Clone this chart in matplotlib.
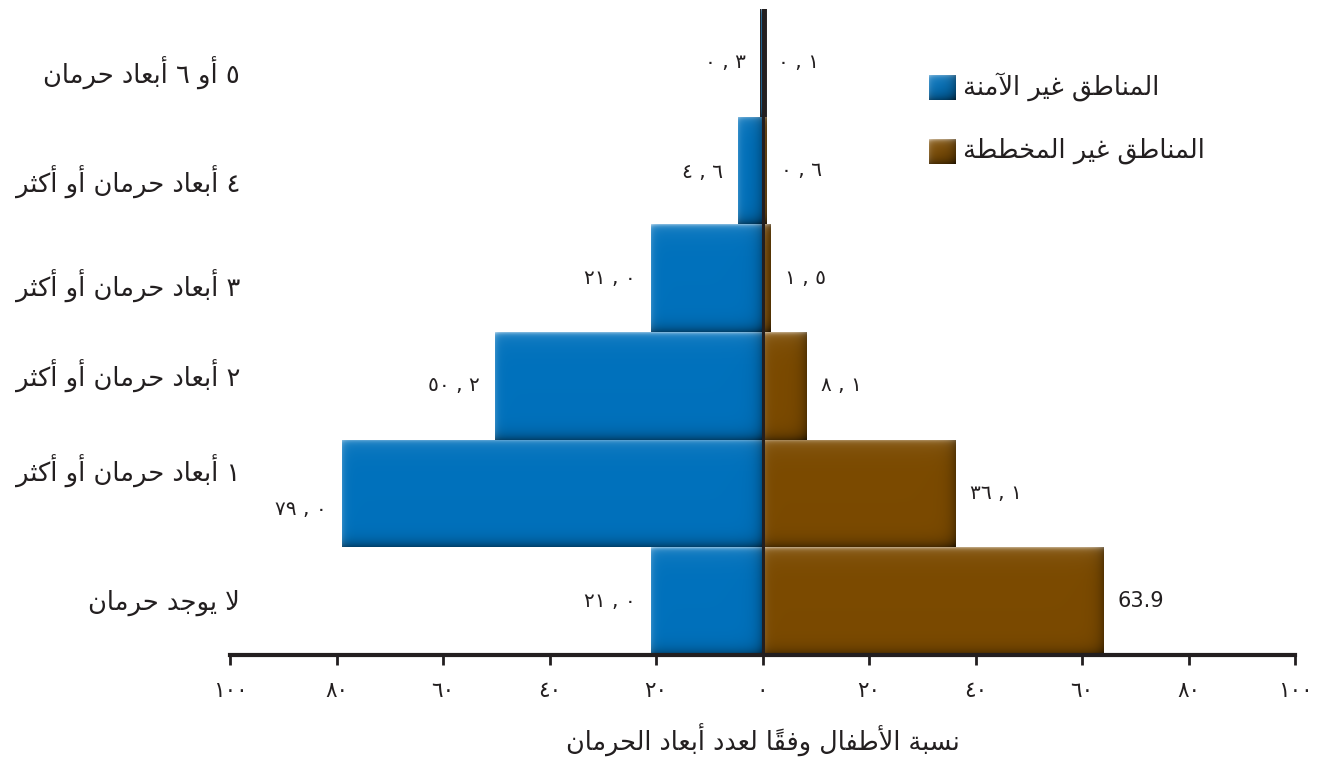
import numpy as np
import matplotlib
matplotlib.use("Agg")
import matplotlib.pyplot as plt
from matplotlib.colors import to_rgb
from matplotlib.transforms import blended_transform_factory

# ---------------------------------------------------------------- data
categories = [
    "لا يوجد حرمان",
    "١ أبعاد حرمان أو أكثر",
    "٢ أبعاد حرمان أو أكثر",
    "٣ أبعاد حرمان أو أكثر",
    "٤ أبعاد حرمان أو أكثر",
    "٥ أو ٦ أبعاد حرمان",
]
unsafe = [21.0, 79.0, 50.2, 21.0, 4.6, 0.3]
unplanned = [63.9, 36.1, 8.1, 1.5, 0.6, 0.1]
unsafe_labels = ["٢١,٠", "٧٩,٠", "٥٠,٢", "٢١,٠", "٤,٦", "٠,٣"]
unplanned_labels = ["63.9", "٣٦,١", "٨,١", "١,٥", "٠,٦", "٠,١"]
series_names = ["المناطق غير الآمنة", "المناطق غير المخططة"]
xticks = [-100, -80, -60, -40, -20, 0, 20, 40, 60, 80, 100]
xtick_labels = ["١٠٠", "٨٠", "٦٠", "٤٠", "٢٠", "٠", "٢٠", "٤٠", "٦٠", "٨٠", "١٠٠"]
xlabel = "نسبة الأطفال وفقاً لعدد أبعاد الحرمان"

# ---------------------------------------------------------------- style
BLUE = "#0071BC"
BROWN = "#7B4A00"
DARK = "#231F20"
plt.rcParams["font.family"] = ["DejaVu Sans"]
# vertical nudges (pixels, downward) for the category and left value labels
category_nudge_px = [2, -22, -9, 8, 12, 11]
unsafe_label_nudge_px = [0, 16, 0, 0, 2, 0]


# ------------------------------------------- minimal Arabic shaping / RTL
def _build_forms():
    spec = [("\u0621", 1), ("\u0622", 2), ("\u0623", 2), ("\u0624", 2),
            ("\u0625", 2), ("\u0626", 4), ("\u0627", 2), ("\u0628", 4),
            ("\u0629", 2)]
    spec += [(chr(c), 4) for c in range(0x062A, 0x062F)]
    spec += [(chr(c), 2) for c in range(0x062F, 0x0633)]
    spec += [(chr(c), 4) for c in range(0x0633, 0x063B)]
    spec += [(chr(c), 4) for c in range(0x0641, 0x0648)]
    spec += [("\u0648", 2), ("\u0649", 2), ("\u064A", 4)]
    forms, code = {}, 0xFE80
    for ch, n in spec:
        forms[ch] = [chr(code + i) for i in range(n)]
        code += n
    return forms


FORMS = _build_forms()
LAM_ALEF = {"\u0622": ("\uFEF5", "\uFEF6"), "\u0623": ("\uFEF7", "\uFEF8"),
            "\u0625": ("\uFEF9", "\uFEFA"), "\u0627": ("\uFEFB", "\uFEFC")}


def shape(text):
    clusters = []
    for ch in text:
        if "\u064B" <= ch <= "\u0652" and clusters:
            clusters[-1][1] += ch
        else:
            clusters.append([ch, ""])
    merged, i = [], 0
    while i < len(clusters):
        b, m = clusters[i]
        if b == "\u0644" and i + 1 < len(clusters) and clusters[i + 1][0] in LAM_ALEF:
            merged.append(["LA" + clusters[i + 1][0], m + clusters[i + 1][1]])
            i += 2
        else:
            merged.append([b, m])
            i += 1

    def is_letter(b):
        return b in FORMS or b.startswith("LA")

    def joins_fwd(b):
        return b in FORMS and len(FORMS[b]) == 4

    glyphs = []
    for i, (b, m) in enumerate(merged):
        prev_j = i > 0 and joins_fwd(merged[i - 1][0])
        next_j = i + 1 < len(merged) and is_letter(merged[i + 1][0])
        if b.startswith("LA"):
            g = LAM_ALEF[b[2:]][1 if prev_j else 0]
        elif b in FORMS:
            f = FORMS[b]
            if len(f) == 4:
                g = f[3] if (prev_j and next_j) else f[1] if prev_j else f[2] if next_j else f[0]
            elif len(f) == 2:
                g = f[1] if prev_j else f[0]
            else:
                g = f[0]
        else:
            g = b
        glyphs.append(g + m)
    groups = []
    for g in glyphs:
        if g[0].isdigit() and groups and groups[-1][0].isdigit():
            groups[-1] += g
        else:
            groups.append(g)
    return "".join(reversed(groups))


def num_label(s):
    return s.replace(",", " , ")


# --------------------------------------------------------------- figure
W, H = 1323, 757
fig = plt.figure(figsize=(W / 100, H / 100), dpi=100)
ax_left, ax_right, ax_top, ax_bottom = 230, 1295, 9, 655
ax = fig.add_axes([ax_left / W, 1 - ax_bottom / H,
                   (ax_right - ax_left) / W, (ax_bottom - ax_top) / H])
px_per_x = (ax_right - ax_left) / 200.0
px_per_y = (ax_bottom - ax_top) / 6.0

y = np.arange(len(categories))
bars_l = ax.barh(y, [-v for v in unsafe], height=1.0, color=BLUE,
                 linewidth=0, zorder=2)
bars_r = ax.barh(y, unplanned, height=1.0, color=BROWN,
                 linewidth=0, zorder=2)


def bevel(base, w_px, h_px):
    nx = max(int(round(w_px)), 2)
    ny = max(int(round(h_px)), 2)
    xx = np.arange(nx)[None, :] + 0.5
    yy = np.arange(ny)[:, None] + 0.5
    light = (0.45 * np.exp(-yy / 2.0) + 0.14 * np.exp(-yy / 9.0)
             + 0.20 * np.exp(-xx / 3.0) + 0.0 * xx)
    dark = (0.45 * np.exp(-(ny - yy) / 6.0) + 0.35 * np.exp(-(nx - xx) / 6.0)
            + 0.0 * xx)
    light = np.clip(light, 0, 0.7)[..., None]
    dark = np.clip(dark, 0, 0.7)[..., None]
    rgb = np.array(to_rgb(base))
    img = rgb + (1 - rgb) * light
    img = img * (1 - dark)
    return np.clip(img, 0, 1)


for bars, color in ((bars_l, BLUE), (bars_r, BROWN)):
    for p in bars:
        x0 = min(p.get_x(), p.get_x() + p.get_width())
        x1 = max(p.get_x(), p.get_x() + p.get_width())
        if x1 - x0 <= 0:
            continue
        y0, hh = p.get_y(), p.get_height()
        img = bevel(color, (x1 - x0) * px_per_x, hh * px_per_y)
        im = ax.imshow(img, extent=(x0, x1, y0, y0 + hh), origin="upper",
                       aspect="auto", interpolation="bilinear", zorder=2.1)
        im.set_clip_path(p)

# centre divider
ax.axvline(0, color=DARK, lw=5.0, zorder=1.5)
ax.axvline(0, color=DARK, lw=2.2, zorder=3)

# value labels
for yi, v, lab, dy in zip(y, unsafe, unsafe_labels, unsafe_label_nudge_px):
    ax.annotate(num_label(lab), xy=(-v, yi), xytext=(-15, -dy),
                textcoords="offset pixels", ha="right", va="center",
                fontsize=14.5, color=DARK)
for yi, v, lab in zip(y, unplanned, unplanned_labels):
    ax.annotate(num_label(lab), xy=(v, yi), xytext=(15, 0),
                textcoords="offset pixels", ha="left", va="center",
                fontsize=15 if lab.isascii() else 14.5, color=DARK)

# category labels
for yi, cat, dy in zip(y, categories, category_nudge_px):
    ax.annotate(shape(cat), xy=(0, yi),
                xycoords=blended_transform_factory(ax.transAxes, ax.transData),
                xytext=(10, -dy), textcoords="offset pixels",
                ha="right", va="center", fontsize=18.5, color=DARK)

# axes styling
ax.set_xlim(-100, 100)
ax.set_ylim(-0.5, len(categories) - 0.5)
ax.set_yticks([])
for s in ("top", "left", "right"):
    ax.spines[s].set_visible(False)
ax.spines["bottom"].set_color(DARK)
ax.spines["bottom"].set_linewidth(3)
ax.spines["bottom"].set_zorder(4)
ax.set_xticks(xticks, xtick_labels)
ax.tick_params(axis="x", length=7.5, width=2, color=DARK, pad=11,
               labelsize=15.5, labelcolor=DARK)
ax.text(0, -(740 - ax_bottom) / (ax_bottom - ax_top), shape(xlabel),
        transform=ax.get_xaxis_transform(), ha="center", va="center",
        fontsize=18.4, color=DARK)

# legend
for k, (name, color) in enumerate(zip(series_names, (BLUE, BROWN))):
    top_px = 75 + k * 64
    lax = fig.add_axes([929 / W, 1 - (top_px + 25) / H, 26 / W, 25 / H])
    lax.imshow(bevel(color, 26, 25), aspect="auto", interpolation="bilinear")
    lax.set_axis_off()
    fig.text(963 / W, 1 - (top_px + 12) / H, shape(name), ha="left",
             va="center", fontsize=18.5, color=DARK)

fig.savefig("out.png", dpi=100)
